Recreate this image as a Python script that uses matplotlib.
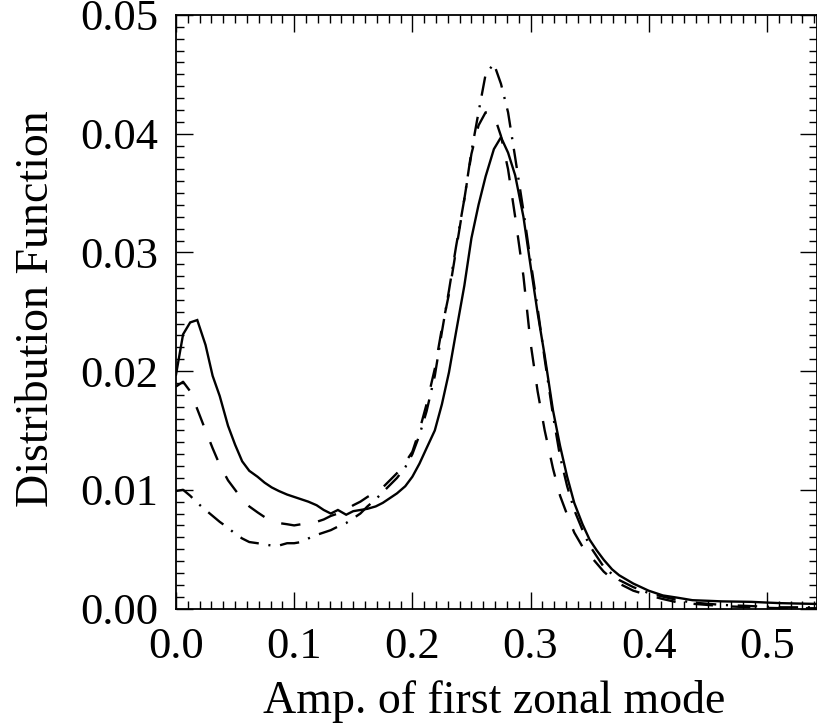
import numpy as np
import matplotlib
matplotlib.use("Agg")
import matplotlib.pyplot as plt
from matplotlib.ticker import MultipleLocator, FormatStrFormatter

# amplitude bins (shared by all three curves)
amp = [0.000, 0.006, 0.012, 0.018, 0.025, 0.031, 0.037, 0.044, 0.050, 0.056,
       0.062, 0.069, 0.075, 0.081, 0.087, 0.094, 0.100, 0.106, 0.112, 0.119,
       0.125, 0.131, 0.137, 0.144, 0.150, 0.156, 0.162, 0.169, 0.175, 0.181,
       0.187, 0.194, 0.200, 0.206, 0.212, 0.219, 0.225, 0.231, 0.237, 0.244,
       0.250, 0.256, 0.262, 0.269, 0.275, 0.281, 0.287, 0.294, 0.300, 0.306,
       0.312, 0.319, 0.325, 0.331, 0.337, 0.344, 0.350, 0.356, 0.362, 0.369,
       0.375, 0.387, 0.400, 0.412, 0.425, 0.437, 0.450, 0.462, 0.475, 0.487,
       0.500, 0.512, 0.525, 0.545]

# solid curve
pdf_solid = [0.0197, 0.0231, 0.0241, 0.0243, 0.0222, 0.0196, 0.0179, 0.0154, 0.0138, 0.0124,
             0.0116, 0.0111, 0.0106, 0.0102, 0.0099, 0.0096, 0.0094, 0.0092, 0.0090, 0.0087,
             0.0083, 0.0080, 0.0083, 0.0079, 0.0082, 0.0083, 0.0084, 0.0086, 0.0089, 0.0093,
             0.0097, 0.0103, 0.0111, 0.0122, 0.0135, 0.0150, 0.0172, 0.0199, 0.0233, 0.0272,
             0.0312, 0.0340, 0.0364, 0.0387, 0.0397, 0.0384, 0.0365, 0.0330, 0.0289, 0.0249,
             0.0213, 0.0167, 0.0137, 0.0111, 0.0089, 0.0071, 0.0058, 0.0049, 0.0041, 0.0033,
             0.0028, 0.0021, 0.0015, 0.0011, 0.0009, 0.0007, 0.00065, 0.0006, 0.00058, 0.00056,
             0.0005, 0.00045, 0.00042, 0.00038]

# dashed curve
pdf_dash = [0.0187, 0.0191, 0.0183, 0.0168, 0.0150, 0.0135, 0.0121, 0.0108, 0.0100, 0.0092,
            0.0086, 0.0081, 0.0077, 0.0074, 0.0072, 0.0071, 0.0070, 0.0071, 0.0071, 0.0073,
            0.0075, 0.0078, 0.0080, 0.0083, 0.0087, 0.0090, 0.0094, 0.0098, 0.0102, 0.0108,
            0.0114, 0.0123, 0.0132, 0.0150, 0.0172, 0.0202, 0.0236, 0.0265, 0.0302, 0.0345,
            0.0383, 0.0407, 0.0418, 0.0416, 0.0398, 0.0370, 0.0330, 0.0280, 0.0224, 0.0183,
            0.0150, 0.0118, 0.0095, 0.0079, 0.0064, 0.0052, 0.0045, 0.0038, 0.0031, 0.0025,
            0.0021, 0.0015, 0.0011, 0.0008, 0.0005, 0.0004, 0.0003, 0.0002, 0.00015, 0.0001,
            0.00005, 0.00003, 0.00002, 0.00002]

# dash-dot curve
pdf_dashdot = [0.0099, 0.0100, 0.0095, 0.0089, 0.0083, 0.0078, 0.0073, 0.0068, 0.0063, 0.0059,
               0.0056, 0.0055, 0.0054, 0.0053, 0.0053, 0.0055, 0.0055, 0.0056, 0.0059, 0.0062,
               0.0064, 0.0066, 0.0069, 0.0072, 0.0076, 0.0080, 0.0086, 0.0092, 0.0098, 0.0104,
               0.0110, 0.0119, 0.0130, 0.0146, 0.0166, 0.0196, 0.0233, 0.0268, 0.0305, 0.0345,
               0.0385, 0.0418, 0.0450, 0.0459, 0.0442, 0.0418, 0.0380, 0.0335, 0.0293, 0.0253,
               0.0210, 0.0163, 0.0128, 0.0103, 0.0083, 0.0066, 0.0053, 0.0044, 0.0035, 0.0029,
               0.0024, 0.0018, 0.0013, 0.0010, 0.0007, 0.0005, 0.0004, 0.0003, 0.00025, 0.0002,
               0.00015, 0.0001, 0.0001, 0.0001]

plt.rcParams['font.family'] = ['Liberation Serif', 'DejaVu Serif']
plt.rcParams['lines.scale_dashes'] = False

fig = plt.figure(figsize=(8.17, 7.28), dpi=100)
ax = fig.add_axes([176 / 817, 119.5 / 728, 640.5 / 817, 593.5 / 728])

lw = 1.7
ax.plot(amp, pdf_solid, color='black', lw=lw, solid_joinstyle='miter')
ax.plot(amp, pdf_dash, color='black', lw=lw, linestyle=(0, (14, 13)))
ax.plot(amp, pdf_dashdot, color='black', lw=lw, linestyle=(0, (14, 7, 1.5, 7)))

ax.set_xlim(0, 0.542)
ax.set_ylim(0, 0.05)
ax.xaxis.set_major_locator(MultipleLocator(0.1))
ax.xaxis.set_minor_locator(MultipleLocator(0.01))
ax.yaxis.set_major_locator(MultipleLocator(0.01))
ax.yaxis.set_minor_locator(MultipleLocator(0.001))
ax.xaxis.set_major_formatter(FormatStrFormatter('%.1f'))
ax.yaxis.set_major_formatter(FormatStrFormatter('%.2f'))

ax.tick_params(which='both', direction='in', top=True, right=True,
               width=1.0, colors='black', labelsize=32)
ax.tick_params(which='major', length=12, pad=13)
ax.tick_params(which='minor', length=6)
for s in ax.spines.values():
    s.set_linewidth(1.3)

fig.text(494 / 817, 1 - 713 / 728, 'Amp. of first zonal mode', fontsize=33,
         ha='center', va='baseline')
fig.text(37 / 817, 1 - 309 / 728, 'Distribution Function', fontsize=33,
         ha='center', va='center', rotation=90)

fig.savefig('out.png', dpi=100)
